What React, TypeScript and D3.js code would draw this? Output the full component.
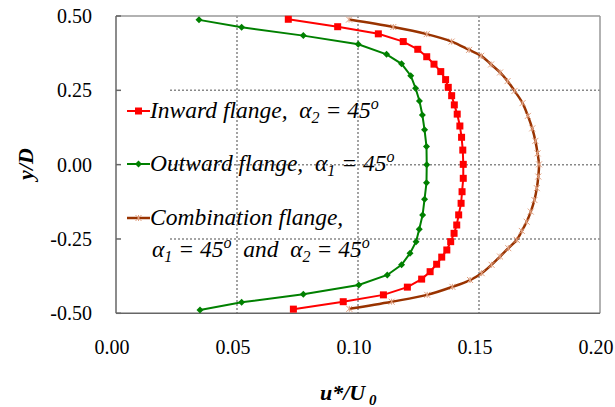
import React from "react";
import * as d3 from "d3";

const xTicks = [0, 0.05, 0.1, 0.15, 0.2];
const yTicks = [0.5, 0.25, 0, -0.25, -0.5];

const outwardU = [0.0343, 0.0519, 0.0774, 0.1001, 0.1118, 0.118, 0.1218, 0.1238, 0.1254, 0.1266, 0.1275, 0.1283, 0.1284, 0.1283, 0.1275, 0.1267, 0.1253, 0.124, 0.1215, 0.118, 0.1121, 0.1003, 0.0774, 0.0519, 0.0347];
const outwardY = [0.487, 0.462, 0.434, 0.405, 0.371, 0.339, 0.299, 0.257, 0.214, 0.167, 0.117, 0.061, 0.0, -0.061, -0.116, -0.169, -0.217, -0.259, -0.298, -0.337, -0.371, -0.405, -0.436, -0.463, -0.489];

const inwardU = [0.0712, 0.0916, 0.1084, 0.1187, 0.1247, 0.1284, 0.1314, 0.1342, 0.1362, 0.1373, 0.1387, 0.1398, 0.141, 0.1421, 0.1428, 0.1433, 0.1435, 0.1435, 0.143, 0.1426, 0.1416, 0.1408, 0.1397, 0.1383, 0.1367, 0.1346, 0.1325, 0.1298, 0.1263, 0.1204, 0.1105, 0.0939, 0.0733];
const inwardY = [0.489, 0.464, 0.44, 0.414, 0.388, 0.363, 0.338, 0.313, 0.286, 0.26, 0.232, 0.201, 0.17, 0.13, 0.092, 0.049, 0.001, -0.046, -0.091, -0.13, -0.169, -0.203, -0.231, -0.259, -0.287, -0.311, -0.335, -0.36, -0.385, -0.412, -0.438, -0.461, -0.486];

const comboU = [0.0963, 0.1146, 0.1284, 0.1387, 0.1459, 0.1509, 0.155, 0.1587, 0.1618, 0.1647, 0.168, 0.1702, 0.172, 0.1733, 0.1742, 0.1748, 0.1745, 0.1739, 0.1729, 0.1714, 0.1697, 0.1677, 0.1656, 0.1621, 0.1587, 0.1552, 0.1511, 0.1463, 0.139, 0.1286, 0.1139, 0.0964];
const comboY = [0.488, 0.463, 0.439, 0.414, 0.386, 0.366, 0.337, 0.31, 0.281, 0.248, 0.207, 0.164, 0.122, 0.08, 0.038, 0.001, -0.04, -0.079, -0.119, -0.158, -0.192, -0.223, -0.253, -0.281, -0.309, -0.337, -0.365, -0.388, -0.411, -0.438, -0.461, -0.485];

const RED = "#ff0000";
const GREEN = "#008000";
const BROWN = "#993300";
const TAN = "#e0a080";

const FF = "'Liberation Serif', 'Times New Roman', Tinos, serif";

function Diamond({ x, y, r, color }: { x: number; y: number; r: number; color: string }) {
  return <path d={`M${x},${y - r}L${x + r},${y}L${x},${y + r}L${x - r},${y}Z`} fill={color} />;
}
function Star({ x, y, r, color }: { x: number; y: number; r: number; color: string }) {
  return (
    <path
      d={`M${x - r},${y - r}L${x + r},${y + r}M${x - r},${y + r}L${x + r},${y - r}M${x},${y - r}L${x},${y + r}`}
      stroke={color}
      strokeWidth={1}
      fill="none"
    />
  );
}

export default function App() {
  const x = d3.scaleLinear().domain([0, 0.2]).range([116, 600]);
  const y = d3.scaleLinear().domain([-0.5, 0.5]).range([313.3, 16]);

  const mk = (us: number[], ys: number[]) => us.map((u, i) => [x(u), y(ys[i])] as [number, number]);
  const outPts = mk(outwardU, outwardY);
  const inPts = mk(inwardU, inwardY);
  const comboPts = mk(comboU, comboY);
  const line = d3.line();
  const smooth = d3.line().curve(d3.curveCatmullRom.alpha(0.5));

  const x0 = x(0), x1 = x(0.2), yTop = y(0.5), yBot = y(-0.5);
  const pre: React.CSSProperties = { whiteSpace: "pre" };
  const LF = 23.5;
  const SF = 16;

  return (
    <svg width={615} height={407} style={{ position: "absolute", left: 0, top: 0 }}>
      <rect x={0} y={0} width={615} height={407} fill="#fff" />
      {xTicks.filter((t) => t > 0 && t < 0.2).map((t) => (
        <line key={"gx" + t} x1={x(t)} x2={x(t)} y1={yTop} y2={yBot} stroke="#666" strokeWidth={1.2} strokeDasharray="2,2" />
      ))}
      {yTicks.filter((t) => t > -0.5 && t < 0.5).map((t) => (
        <line key={"gy" + t} x1={170} x2={x1} y1={y(t)} y2={y(t)} stroke="#888" strokeWidth={1.5} strokeDasharray="2,2" />
      ))}
      <line x1={x0} x2={x1} y1={yTop} y2={yTop} stroke="#999" strokeWidth={1.5} />
      <line x1={x1} x2={x1} y1={yTop} y2={yBot} stroke="#999" strokeWidth={1.5} />
      <line x1={x0} x2={x1} y1={yBot} y2={yBot} stroke="#666" strokeWidth={1.5} />
      <line x1={x0} x2={x0} y1={yTop} y2={yBot} stroke="#666" strokeWidth={1.5} />
      {yTicks.map((t) => (
        <line key={"ty" + t} x1={x0} x2={x0 + 5} y1={y(t)} y2={y(t)} stroke="#666" strokeWidth={1.5} />
      ))}
      {yTicks.map((t) => (
        <text key={"ly" + t} x={92} y={y(t)} dy="0.35em" textAnchor="end" fontSize={20} fontFamily={FF}>
          {d3.format(".2f")(t).replace("−", "-")}
        </text>
      ))}
      {xTicks.map((t) => (
        <text key={"lx" + t} x={x(t) - 4} y={354} textAnchor="middle" fontSize={20} fontFamily={FF}>
          {d3.format(".2f")(t)}
        </text>
      ))}
      <path d={smooth(comboPts) || ""} fill="none" stroke={BROWN} strokeWidth={2.5} />
      {comboPts.map((p, i) => (
        <Star key={"c" + i} x={p[0]} y={p[1]} r={3} color={TAN} />
      ))}
      <path d={line(inPts) || ""} fill="none" stroke={RED} strokeWidth={2} />
      {inPts.map((p, i) => (
        <rect key={"r" + i} x={p[0] - 3.5} y={p[1] - 3.5} width={7} height={7} fill={RED} />
      ))}
      <path d={line(outPts) || ""} fill="none" stroke={GREEN} strokeWidth={2} />
      {outPts.map((p, i) => (
        <Diamond key={"g" + i} x={p[0]} y={p[1]} r={3.5} color={GREEN} />
      ))}
      <line x1={127} x2={150} y1={111} y2={111} stroke={RED} strokeWidth={2} />
      <rect x={135} y={107.5} width={7} height={7} fill={RED} />
      <line x1={127} x2={150} y1={164} y2={164} stroke={GREEN} strokeWidth={2} />
      <Diamond x={138.5} y={164} r={3.5} color={GREEN} />
      <line x1={127} x2={150} y1={218} y2={218} stroke={BROWN} strokeWidth={2.5} />
      <Star x={138.5} y={218} r={3} color={TAN} />

      <text x={150} y={118} fontSize={LF} fontStyle="italic" fontFamily={FF} style={pre}>
        {"Inward flange,  α"}
        <tspan fontSize={SF} dy={5}>2</tspan>
        <tspan dy={-5}>{" = 45"}</tspan>
        <tspan fontSize={SF} dy={-9}>o</tspan>
      </text>
      <text x={150} y={171} fontSize={LF} fontStyle="italic" fontFamily={FF} style={pre}>
        {"Outward flange,  α"}
        <tspan fontSize={SF} dy={5}>1</tspan>
        <tspan dy={-5}>{" = 45"}</tspan>
        <tspan fontSize={SF} dy={-9}>o</tspan>
      </text>
      <text x={150} y={225} fontSize={LF} fontStyle="italic" fontFamily={FF} style={pre}>
        {"Combination flange,"}
      </text>
      <text x={152} y={257} fontSize={LF} fontStyle="italic" fontFamily={FF} style={pre}>
        {"α"}
        <tspan fontSize={SF} dy={5}>1</tspan>
        <tspan dy={-5}>{" = 45"}</tspan>
        <tspan fontSize={SF} dy={-9}>o</tspan>
        <tspan dy={9}>{"  and  α"}</tspan>
        <tspan fontSize={SF} dy={5}>2</tspan>
        <tspan dy={-5}>{" = 45"}</tspan>
        <tspan fontSize={SF} dy={-9}>o</tspan>
      </text>
      <text transform="translate(33,164) rotate(-90)" textAnchor="middle" fontSize={22} fontWeight="bold" fontStyle="italic" fontFamily={FF}>
        y/D
      </text>
      <text x={320} y={400} fontSize={22} fontWeight="bold" fontStyle="italic" fontFamily={FF} style={pre}>
        {"u*/U"}
        <tspan fontSize={15} dy={5}>{" 0"}</tspan>
      </text>
    </svg>
  );
}
